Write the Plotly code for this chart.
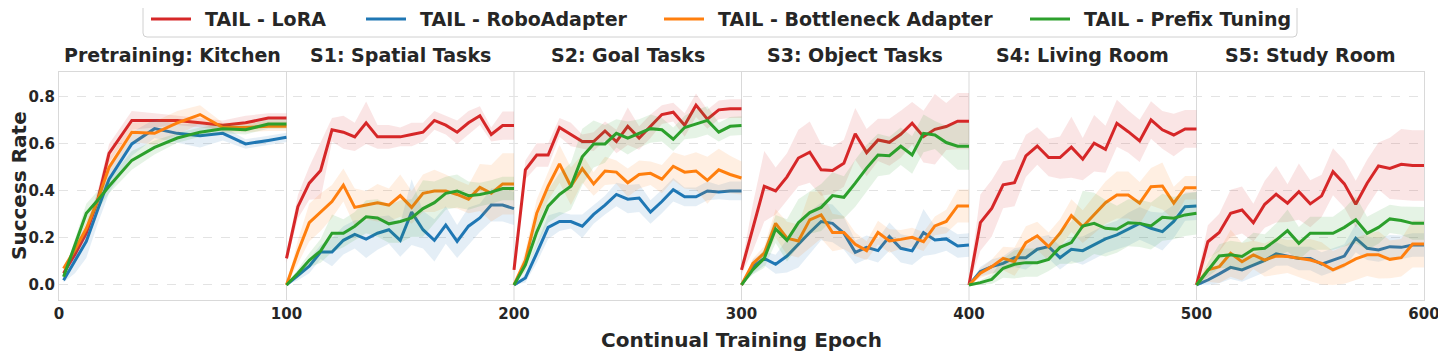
import plotly.graph_objects as go

stages = ["Pretraining: Kitchen", "S1: Spatial Tasks", "S2: Goal Tasks",
          "S3: Object Tasks", "S4: Living Room", "S5: Study Room"]
pre_epochs = [2, 7, 12, 17, 22, 32, 42, 52, 62, 72, 82, 92, 100]
stage_epochs = [0, 5, 10, 15, 20, 25, 30, 35, 40, 45, 50,
                55, 60, 65, 70, 75, 80, 85, 90, 95, 100]
methods = ["TAIL - LoRA", "TAIL - RoboAdapter", "TAIL - Bottleneck Adapter", "TAIL - Prefix Tuning"]
colors = ["#d62728", "#1f77b4", "#ff7f0e", "#2ca02c"]
fills = ["rgba(214,39,40,0.12)", "rgba(31,119,180,0.12)", "rgba(255,127,14,0.12)", "rgba(44,160,44,0.12)"]
xticks = [0, 100, 200, 300, 400, 500, 600]
yticks = [0.0, 0.2, 0.4, 0.6, 0.8]

# mean success rate, one list per stage
lora = [
    [0.05, 0.13, 0.22, 0.36, 0.56, 0.70, 0.70, 0.70, 0.69, 0.68, 0.69, 0.71, 0.71],
    [0.113, 0.333, 0.433, 0.487, 0.66, 0.65, 0.63, 0.69, 0.63, 0.63, 0.63, 0.64, 0.65, 0.70, 0.68, 0.65, 0.69, 0.72, 0.64, 0.678, 0.678],
    [0.064, 0.49, 0.553, 0.553, 0.67, 0.64, 0.61, 0.61, 0.655, 0.61, 0.675, 0.625, 0.675, 0.725, 0.735, 0.68, 0.765, 0.705, 0.745, 0.75, 0.75],
    [0.064, 0.245, 0.42, 0.40, 0.46, 0.54, 0.565, 0.49, 0.487, 0.518, 0.643, 0.563, 0.617, 0.607, 0.641, 0.688, 0.631, 0.662, 0.674, 0.697, 0.697],
    [0.0, 0.265, 0.326, 0.426, 0.435, 0.549, 0.591, 0.542, 0.542, 0.586, 0.535, 0.603, 0.577, 0.688, 0.652, 0.613, 0.702, 0.66, 0.638, 0.664, 0.664],
    [0.0, 0.184, 0.223, 0.305, 0.319, 0.265, 0.343, 0.386, 0.348, 0.397, 0.345, 0.379, 0.482, 0.43, 0.343, 0.433, 0.506, 0.496, 0.513, 0.508, 0.508],
]
robo = [
    [0.02, 0.10, 0.185, 0.32, 0.45, 0.60, 0.665, 0.645, 0.635, 0.645, 0.60, 0.615, 0.628],
    [0.0, 0.04, 0.08, 0.14, 0.14, 0.19, 0.215, 0.195, 0.22, 0.235, 0.19, 0.31, 0.235, 0.19, 0.255, 0.185, 0.25, 0.285, 0.34, 0.34, 0.325],
    [0.0, 0.03, 0.135, 0.245, 0.27, 0.27, 0.25, 0.30, 0.34, 0.385, 0.365, 0.37, 0.31, 0.355, 0.405, 0.375, 0.375, 0.40, 0.395, 0.40, 0.40],
    [0.0, 0.078, 0.113, 0.088, 0.123, 0.174, 0.223, 0.27, 0.262, 0.22, 0.139, 0.16, 0.146, 0.206, 0.156, 0.145, 0.223, 0.191, 0.196, 0.166, 0.17],
    [0.0, 0.057, 0.078, 0.092, 0.116, 0.116, 0.152, 0.163, 0.116, 0.152, 0.146, 0.17, 0.196, 0.213, 0.237, 0.262, 0.241, 0.227, 0.27, 0.333, 0.336],
    [0.0, 0.021, 0.047, 0.075, 0.064, 0.085, 0.104, 0.132, 0.123, 0.113, 0.113, 0.089, 0.106, 0.123, 0.199, 0.156, 0.149, 0.163, 0.16, 0.17, 0.17],
]
bottleneck = [
    [0.07, 0.15, 0.24, 0.36, 0.50, 0.65, 0.645, 0.69, 0.725, 0.67, 0.67, 0.675, 0.675],
    [0.0, 0.14, 0.265, 0.31, 0.355, 0.425, 0.33, 0.34, 0.35, 0.34, 0.38, 0.33, 0.39, 0.40, 0.40, 0.385, 0.365, 0.415, 0.39, 0.43, 0.43],
    [0.0, 0.105, 0.305, 0.42, 0.515, 0.42, 0.495, 0.43, 0.485, 0.48, 0.435, 0.47, 0.475, 0.45, 0.505, 0.48, 0.485, 0.445, 0.49, 0.47, 0.455],
    [0.0, 0.092, 0.135, 0.262, 0.199, 0.187, 0.277, 0.298, 0.223, 0.223, 0.173, 0.146, 0.223, 0.187, 0.194, 0.203, 0.184, 0.251, 0.27, 0.336, 0.336],
    [0.0, 0.05, 0.078, 0.113, 0.099, 0.18, 0.209, 0.163, 0.22, 0.295, 0.248, 0.298, 0.35, 0.383, 0.383, 0.348, 0.418, 0.421, 0.348, 0.414, 0.414],
    [0.0, 0.064, 0.078, 0.135, 0.099, 0.128, 0.106, 0.123, 0.121, 0.113, 0.106, 0.092, 0.064, 0.085, 0.111, 0.128, 0.128, 0.109, 0.116, 0.174, 0.174],
]
prefix = [
    [0.035, 0.17, 0.305, 0.36, 0.42, 0.53, 0.585, 0.625, 0.65, 0.665, 0.66, 0.685, 0.685],
    [0.0, 0.05, 0.105, 0.145, 0.22, 0.22, 0.25, 0.29, 0.285, 0.26, 0.27, 0.285, 0.325, 0.35, 0.39, 0.40, 0.38, 0.385, 0.395, 0.41, 0.41],
    [0.0, 0.085, 0.225, 0.335, 0.385, 0.42, 0.545, 0.60, 0.60, 0.645, 0.625, 0.645, 0.665, 0.66, 0.62, 0.67, 0.685, 0.70, 0.65, 0.675, 0.678],
    [0.0, 0.065, 0.113, 0.238, 0.19, 0.265, 0.308, 0.33, 0.38, 0.373, 0.433, 0.497, 0.553, 0.55, 0.59, 0.553, 0.645, 0.638, 0.606, 0.59, 0.59],
    [0.0, 0.01, 0.024, 0.071, 0.088, 0.095, 0.095, 0.109, 0.16, 0.18, 0.251, 0.262, 0.241, 0.237, 0.265, 0.262, 0.251, 0.288, 0.284, 0.298, 0.305],
    [0.0, 0.064, 0.123, 0.128, 0.121, 0.152, 0.156, 0.191, 0.231, 0.177, 0.22, 0.22, 0.22, 0.245, 0.277, 0.22, 0.245, 0.281, 0.274, 0.262, 0.262],
]

# std across seeds (shaded band)
lora_std = [
    [0.01, 0.02, 0.03, 0.04, 0.04, 0.04, 0.03, 0.02, 0.02, 0.02, 0.03, 0.02, 0.02],
    [0.02, 0.05, 0.07, 0.12, 0.05, 0.07, 0.06, 0.09, 0.05, 0.05, 0.04, 0.05, 0.04, 0.04, 0.04, 0.05, 0.05, 0.04, 0.03, 0.06, 0.06],
    [0.02, 0.04, 0.05, 0.05, 0.04, 0.05, 0.03, 0.04, 0.04, 0.05, 0.08, 0.05, 0.05, 0.04, 0.04, 0.05, 0.05, 0.04, 0.04, 0.04, 0.04],
    [0.02, 0.10, 0.15, 0.10, 0.10, 0.12, 0.13, 0.11, 0.10, 0.10, 0.11, 0.10, 0.09, 0.10, 0.10, 0.09, 0.11, 0.15, 0.10, 0.12, 0.12],
    [0.02, 0.12, 0.12, 0.10, 0.10, 0.09, 0.08, 0.08, 0.09, 0.13, 0.09, 0.12, 0.10, 0.10, 0.09, 0.09, 0.08, 0.08, 0.09, 0.08, 0.08],
    [0.02, 0.07, 0.08, 0.10, 0.10, 0.08, 0.10, 0.12, 0.08, 0.12, 0.10, 0.09, 0.10, 0.10, 0.10, 0.10, 0.10, 0.13, 0.15, 0.15, 0.15],
]
robo_std = [
    [0.01, 0.05, 0.07, 0.06, 0.06, 0.05, 0.04, 0.04, 0.05, 0.03, 0.02, 0.02, 0.02],
    [0.0, 0.02, 0.03, 0.03, 0.06, 0.06, 0.06, 0.08, 0.07, 0.06, 0.07, 0.14, 0.08, 0.09, 0.08, 0.07, 0.08, 0.06, 0.07, 0.07, 0.07],
    [0.0, 0.02, 0.04, 0.05, 0.04, 0.03, 0.05, 0.04, 0.04, 0.05, 0.06, 0.06, 0.05, 0.05, 0.05, 0.04, 0.04, 0.04, 0.03, 0.04, 0.04],
    [0.0, 0.03, 0.03, 0.04, 0.07, 0.10, 0.09, 0.08, 0.08, 0.07, 0.05, 0.05, 0.05, 0.06, 0.06, 0.06, 0.10, 0.06, 0.05, 0.05, 0.05],
    [0.0, 0.02, 0.03, 0.03, 0.04, 0.05, 0.05, 0.05, 0.05, 0.05, 0.06, 0.06, 0.06, 0.06, 0.07, 0.07, 0.07, 0.08, 0.07, 0.06, 0.06],
    [0.0, 0.03, 0.04, 0.05, 0.05, 0.05, 0.05, 0.05, 0.04, 0.05, 0.05, 0.05, 0.05, 0.05, 0.06, 0.05, 0.05, 0.05, 0.05, 0.05, 0.05],
]
bottleneck_std = [
    [0.01, 0.02, 0.03, 0.03, 0.04, 0.04, 0.05, 0.05, 0.04, 0.02, 0.02, 0.02, 0.02],
    [0.0, 0.05, 0.08, 0.08, 0.07, 0.07, 0.08, 0.06, 0.08, 0.07, 0.09, 0.07, 0.08, 0.09, 0.07, 0.06, 0.06, 0.10, 0.12, 0.13, 0.13],
    [0.0, 0.04, 0.06, 0.06, 0.08, 0.08, 0.06, 0.05, 0.06, 0.05, 0.06, 0.06, 0.05, 0.06, 0.06, 0.07, 0.08, 0.10, 0.09, 0.08, 0.07],
    [0.0, 0.02, 0.03, 0.06, 0.07, 0.07, 0.12, 0.10, 0.08, 0.07, 0.05, 0.04, 0.05, 0.05, 0.04, 0.04, 0.04, 0.04, 0.05, 0.07, 0.07],
    [0.0, 0.02, 0.03, 0.05, 0.06, 0.07, 0.06, 0.06, 0.06, 0.07, 0.07, 0.08, 0.09, 0.10, 0.10, 0.09, 0.08, 0.10, 0.07, 0.05, 0.05],
    [0.0, 0.05, 0.07, 0.10, 0.08, 0.06, 0.07, 0.08, 0.07, 0.08, 0.09, 0.09, 0.08, 0.08, 0.09, 0.09, 0.10, 0.08, 0.08, 0.10, 0.10],
]
prefix_std = [
    [0.01, 0.03, 0.04, 0.04, 0.03, 0.04, 0.03, 0.02, 0.02, 0.02, 0.02, 0.02, 0.02],
    [0.0, 0.02, 0.03, 0.05, 0.08, 0.06, 0.06, 0.07, 0.08, 0.08, 0.09, 0.08, 0.12, 0.09, 0.07, 0.07, 0.06, 0.05, 0.05, 0.05, 0.05],
    [0.0, 0.03, 0.06, 0.07, 0.09, 0.10, 0.12, 0.10, 0.08, 0.06, 0.07, 0.06, 0.06, 0.05, 0.05, 0.05, 0.06, 0.06, 0.04, 0.04, 0.04],
    [0.0, 0.02, 0.04, 0.06, 0.09, 0.10, 0.09, 0.10, 0.10, 0.09, 0.10, 0.10, 0.09, 0.08, 0.08, 0.08, 0.08, 0.06, 0.07, 0.10, 0.10],
    [0.0, 0.01, 0.02, 0.04, 0.06, 0.06, 0.06, 0.05, 0.07, 0.09, 0.15, 0.13, 0.12, 0.10, 0.10, 0.10, 0.10, 0.10, 0.09, 0.09, 0.09],
    [0.0, 0.03, 0.05, 0.06, 0.06, 0.07, 0.06, 0.07, 0.09, 0.07, 0.07, 0.07, 0.07, 0.08, 0.10, 0.07, 0.07, 0.06, 0.06, 0.07, 0.07],
]

means = [lora, robo, bottleneck, prefix]
stds = [lora_std, robo_std, bottleneck_std, prefix_std]

FONT = "DejaVu Sans"
TXT = "#262626"
# the page body has an 8px margin, so the figure is drawn 8px smaller
# and every screen position below is given in page pixels
OFF = 8
W, H = 1446 - OFF, 357 - OFF
L, R, T, B = 59 - OFF, 22, 72 - OFF, 57


def px_x(px):
    # page pixel -> paper x
    return (px - OFF - L) / (W - L - R)


def px_y(py):
    # page pixel -> paper y
    return (H - B - (py - OFF)) / (H - T - B)


fig = go.Figure()
for m in range(len(methods)):
    for k in range(len(stages)):
        if k == 0:
            x = pre_epochs
        else:
            x = [100 * k + e for e in stage_epochs]
        mu = means[m][k]
        sd = stds[m][k]
        hi = [a + b for a, b in zip(mu, sd)]
        lo = [max(0.0, a - b) for a, b in zip(mu, sd)]
        fig.add_trace(go.Scatter(
            x=x + x[::-1], y=hi + lo[::-1],
            fill="toself", fillcolor=fills[m],
            line=dict(width=0), mode="lines",
            hoverinfo="skip", showlegend=False
        ))
        fig.add_trace(go.Scatter(
            x=x, y=mu, mode="lines", name=methods[m],
            line=dict(color=colors[m], width=3),
            showlegend=False
        ))

# panel separators
for k in range(1, len(stages)):
    fig.add_shape(type="line", xref="x", yref="paper", x0=100 * k, x1=100 * k, y0=0, y1=1,
                  line=dict(color="#d9d9d9", width=1), layer="below")

# panel titles
for k, title in enumerate(stages):
    fig.add_annotation(x=100 * k + 50, y=1, xref="x", yref="paper", yanchor="middle", yshift=17,
                       text=title, showarrow=False,
                       font=dict(family=FONT, size=19, weight="bold", color=TXT))

# legend box drawn by hand so the spacing matches matplotlib's
bx0, bx1, by0, by1, rr = px_x(143), px_x(1297), px_y(37), px_y(3), 4
rx, ry = rr / (W - L - R), rr / (H - T - B)
box = (f"M{bx0 + rx},{by0} L{bx1 - rx},{by0} Q{bx1},{by0} {bx1},{by0 + ry} "
       f"L{bx1},{by1 - ry} Q{bx1},{by1} {bx1 - rx},{by1} L{bx0 + rx},{by1} "
       f"Q{bx0},{by1} {bx0},{by1 - ry} L{bx0},{by0 + ry} Q{bx0},{by0} {bx0 + rx},{by0} Z")
fig.add_shape(type="path", path=box, xref="paper", yref="paper",
              line=dict(color="#d0d0d0", width=1), fillcolor="white")
legend_x = [151, 366, 664, 1030]
for m, name in enumerate(methods):
    fig.add_shape(type="line", xref="paper", yref="paper",
                  x0=px_x(legend_x[m]), x1=px_x(legend_x[m] + 40), y0=px_y(19), y1=px_y(19),
                  line=dict(color=colors[m], width=3))
    fig.add_annotation(x=px_x(legend_x[m] + 52), y=px_y(19), xref="paper", yref="paper",
                       xanchor="left", yanchor="middle", text=name, showarrow=False,
                       font=dict(family=FONT, size=19, weight="bold", color=TXT))

fig.add_annotation(x=px_x(19), y=0.5, xref="paper", yref="paper", textangle=-90,
                   xanchor="center", yanchor="middle",
                   text="Success Rate", showarrow=False,
                   font=dict(family=FONT, size=20, weight="bold", color=TXT))
fig.add_annotation(x=0.5, y=px_y(340), xref="paper", yref="paper", yanchor="middle",
                   text="Continual Training Epoch", showarrow=False,
                   font=dict(family=FONT, size=20, weight="bold", color=TXT))

fig.update_layout(
    width=W, height=H,
    margin=dict(l=L, r=R, t=T, b=B, autoexpand=False),
    plot_bgcolor="white", paper_bgcolor="white",
    font=dict(family=FONT, color=TXT),
    showlegend=False,
    xaxis=dict(range=[0, 600], tickvals=xticks, showgrid=False, zeroline=False,
               showline=True, mirror=True, linecolor="#d9d9d9", linewidth=1,
               tickfont=dict(family=FONT, size=15, weight="bold", color=TXT)),
    yaxis=dict(range=[-0.064, 0.906], tickvals=yticks, tickformat=".1f",
               showgrid=True, gridcolor="#e3e3e3", griddash="dash", gridwidth=1, zeroline=False,
               showline=True, mirror=True, linecolor="#d9d9d9", linewidth=1,
               tickfont=dict(family=FONT, size=15, weight="bold", color=TXT)),
)

fig.write_html("out.html")
